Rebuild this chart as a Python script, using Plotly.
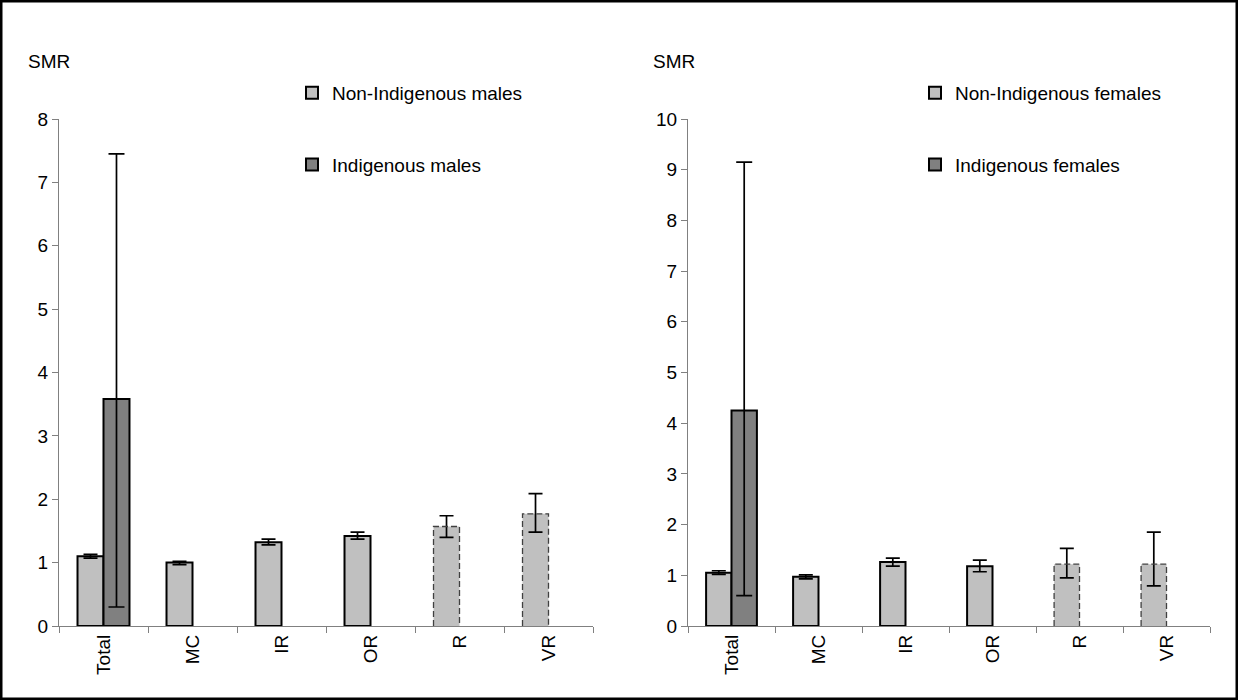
import plotly.graph_objects as go

categories = ["Total", "MC", "IR", "OR", "R", "VR"]

male_nonind = [1.10, 1.00, 1.32, 1.42, 1.57, 1.77]
male_nonind_lo = [1.07, 0.97, 1.28, 1.37, 1.40, 1.48]
male_nonind_hi = [1.13, 1.02, 1.37, 1.48, 1.74, 2.09]
male_ind = [3.58, None, None, None, None, None]
male_ind_lo = [0.30, None, None, None, None, None]
male_ind_hi = [7.45, None, None, None, None, None]

female_nonind = [1.05, 0.97, 1.26, 1.18, 1.22, 1.22]
female_nonind_lo = [1.02, 0.93, 1.18, 1.07, 0.95, 0.79]
female_nonind_hi = [1.09, 1.01, 1.34, 1.30, 1.53, 1.85]
female_ind = [4.25, None, None, None, None, None]
female_ind_lo = [0.60, None, None, None, None, None]
female_ind_hi = [9.15, None, None, None, None, None]

# categories drawn with a dashed outline (R and VR)
dashed = [False, False, False, False, True, True]

LIGHT = "#C0C0C0"
DARK = "#808080"
AXIS = "#808080"
FONT = "Liberation Sans, Arial, sans-serif"
FS = 19
BW = 0.292  # bar width in category units

W, H = 1238, 700
xs = list(range(len(categories)))


def err(vals, lo, hi):
    plus = [(h - v) if v is not None else None for v, h in zip(vals, hi)]
    minus = [(v - l) if v is not None else None for v, l in zip(vals, lo)]
    return plus, minus


fig = go.Figure()


def add_panel(nonind, lo, hi, ind, ilo, ihi, names, xa, ya, leg):
    p, m = err(nonind, lo, hi)
    fig.add_trace(go.Bar(
        x=xs, y=nonind, width=BW, offset=-BW, name=names[0],
        marker=dict(color=LIGHT,
                    line=dict(color="black",
                              width=[0 if d else 2 for d in dashed])),
        error_y=dict(type="data", array=p, arrayminus=m, color="black",
                     thickness=1.7, width=7),
        xaxis=xa, yaxis=ya, legend=leg, legendgroup=names[0],
    ))
    p2, m2 = err(ind, ilo, ihi)
    fig.add_trace(go.Bar(
        x=xs, y=ind, width=BW, offset=0, name=names[1],
        marker=dict(color=DARK, line=dict(color="black", width=2)),
        error_y=dict(type="data", array=p2, arrayminus=m2, color="black",
                     thickness=1.7, width=8),
        xaxis=xa, yaxis=ya, legend=leg, legendgroup=names[1],
    ))
    # dashed outlines for the dashed categories
    ox, oy = [], []
    for i, (v, d) in enumerate(zip(nonind, dashed)):
        if d:
            ox += [i - BW, i - BW, i, i, None]
            oy += [0, v, v, 0, None]
    fig.add_trace(go.Scatter(
        x=ox, y=oy, mode="lines", showlegend=False, hoverinfo="skip",
        line=dict(color="#404040", width=1.3, dash="6px,3px"),
        xaxis=xa, yaxis=ya,
    ))


add_panel(male_nonind, male_nonind_lo, male_nonind_hi,
          male_ind, male_ind_lo, male_ind_hi,
          ["Non-Indigenous males", "Indigenous males"], "x", "y", "legend")
add_panel(female_nonind, female_nonind_lo, female_nonind_hi,
          female_ind, female_ind_lo, female_ind_hi,
          ["Non-Indigenous females", "Indigenous females"], "x2", "y2", "legend2")

ybot = 74 / H
ytop = (H - 119) / H

xcommon = dict(
    range=[-0.5, 5.5], tickmode="array", tickvals=xs, ticktext=categories,
    tickangle=-90, ticks="", showgrid=False, zeroline=False,
    showline=True, linecolor=AXIS, linewidth=1.3,
    tickfont=dict(family=FONT, size=FS, color="black"),
    minor=dict(tick0=0.5, dtick=1, ticks="outside", ticklen=6,
               tickcolor=AXIS, tickwidth=1.3, showgrid=False),
    automargin=False, fixedrange=True,
)
ycommon = dict(
    dtick=1, ticks="outside", ticklen=6, tickcolor=AXIS, tickwidth=1.3,
    showgrid=False, zeroline=False, showline=True, linecolor=AXIS,
    linewidth=1.3, tickfont=dict(family=FONT, size=FS, color="black"),
    automargin=False, fixedrange=True,
)

legcommon = dict(
    xanchor="left", yanchor="top", bgcolor="rgba(0,0,0,0)",
    font=dict(family=FONT, size=FS, color="black"),
    tracegroupgap=44, traceorder="grouped", itemwidth=30,
)

fig.update_layout(
    width=W, height=H,
    margin=dict(l=0, r=0, t=0, b=0),
    paper_bgcolor="white", plot_bgcolor="white",
    barmode="overlay",
    showlegend=True,
    xaxis=dict(domain=[59 / W, 593 / W], anchor="y", **xcommon),
    yaxis=dict(domain=[ybot, ytop], range=[0, 8], anchor="x", **ycommon),
    xaxis2=dict(domain=[688 / W, 1210 / W], anchor="y2", **xcommon),
    yaxis2=dict(domain=[ybot, ytop], range=[0, 10], anchor="x2", **ycommon),
    legend=dict(x=292 / W, y=(H - 74) / H, **legcommon),
    legend2=dict(x=915 / W, y=(H - 74) / H, **legcommon),
    annotations=[
        dict(text="SMR", x=26 / W, y=(H - 62) / H, xref="paper", yref="paper",
             xanchor="left", yanchor="middle", showarrow=False,
             font=dict(family=FONT, size=FS, color="black")),
        dict(text="SMR", x=651 / W, y=(H - 62) / H, xref="paper", yref="paper",
             xanchor="left", yanchor="middle", showarrow=False,
             font=dict(family=FONT, size=FS, color="black")),
    ],
    shapes=[
        dict(type="rect", xref="paper", yref="paper", x0=0, y0=0, x1=1, y1=1,
             line=dict(color="black", width=5), fillcolor="rgba(0,0,0,0)"),
    ],
)

fig.write_html(
    "out.html",
    config={"displayModeBar": False},
    post_script="document.body.style.margin='0';document.body.style.overflow='hidden';",
)
